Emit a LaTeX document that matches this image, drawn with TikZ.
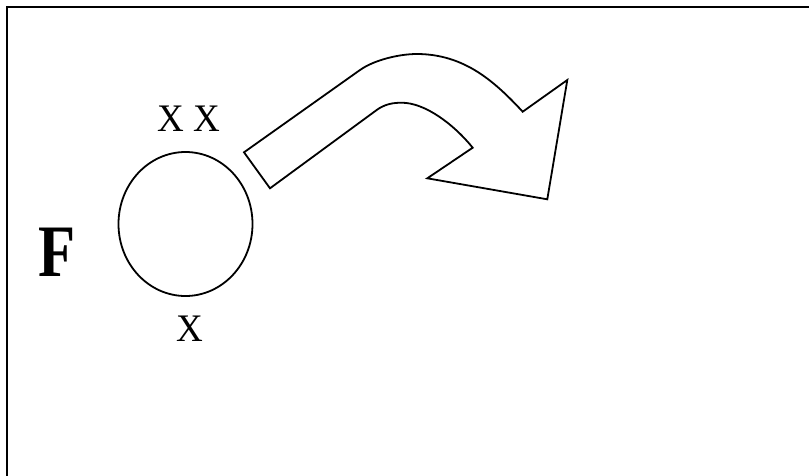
\documentclass[tikz,border=0pt]{standalone}
\usepackage{fontspec}
\setmainfont{Liberation Serif}
\usetikzlibrary{shapes.geometric}
\begin{document}
\begin{tikzpicture}[x=1pt,y=-1pt,
  outline/.style={draw=black,line width=1.8pt,line join=miter},
  lbl/.style={inner sep=0pt,anchor=base,font=\fontsize{39}{39}\selectfont}]
\useasboundingbox (0,0) rectangle (809,475);
\clip (0,0) rectangle (809,475);
\fill[white] (0,0) rectangle (809,475);
\draw[line width=2pt] (6.5,7) rectangle (830,500);
\node[outline, ellipse, minimum width=134pt, minimum height=144pt, inner sep=0pt] (circ) at (185.5,224) {};
\node[inner sep=0pt, anchor=base, xscale=0.82, font=\fontsize{74}{74}\selectfont\bfseries] (lblF) at (57.5,276) {F};
\node[lbl, xscale=0.95] (xtop) at (189,131) {X X};
\node[lbl, xscale=0.95] (xbot) at (190,341) {X};
\draw[outline] (244,152.3) -- (360,70)
  .. controls (374.7,59.6) and (400,54) .. (416.7,54)
  .. controls (465,54) and (495.5,82.5) .. (522.7,111.7)
  -- (567.3,80) -- (547.3,199.3) -- (427.3,178.3) -- (472.7,147.7)
  .. controls (453.8,124.3) and (425,102.7) .. (401.7,102.7)
  .. controls (393,102.7) and (384.8,104.1) .. (376.7,110)
  -- (270,188.3) -- cycle;
\end{tikzpicture}
\end{document}
